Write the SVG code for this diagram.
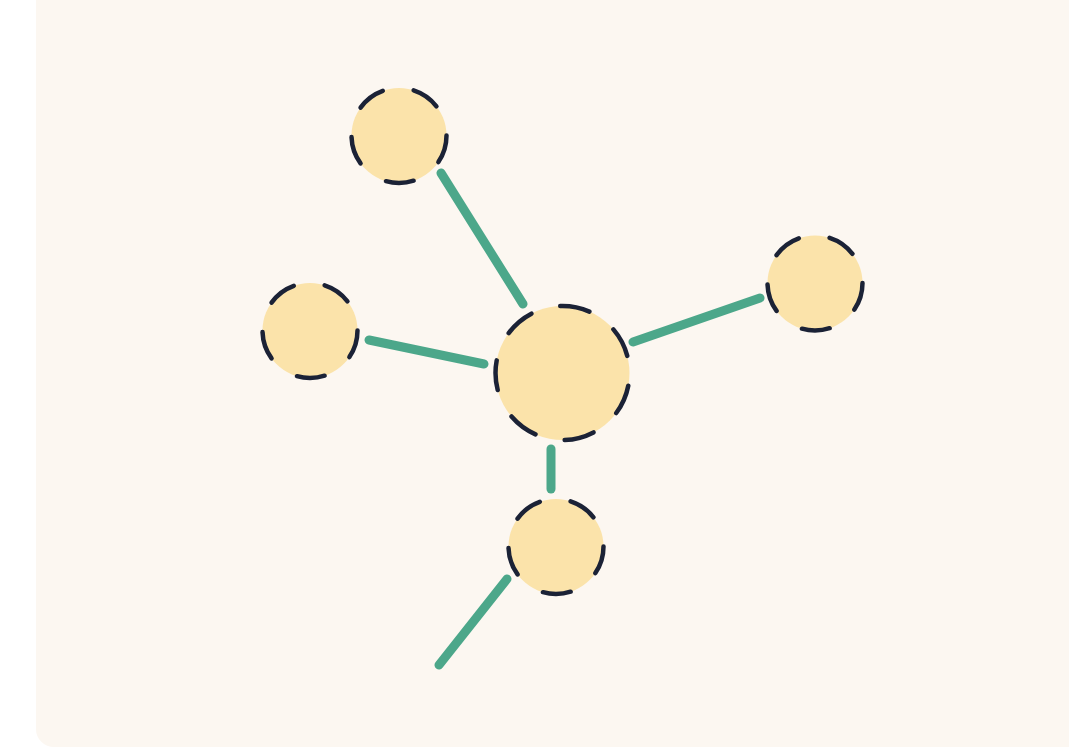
<svg xmlns="http://www.w3.org/2000/svg" width="1069" height="749" viewBox="0 0 1069 749">
  <style>
    .edge { stroke: #4CA78A; stroke-width: 9; stroke-linecap: round; fill: none; }
    .node { fill: #FBE3AA; stroke: #1B2236; stroke-width: 4.5; stroke-linecap: round; }
    .small { stroke-dasharray: 34 38; }
    .big { stroke-dasharray: 25.7 25.7; stroke-dashoffset: -11; }
  </style>
  <rect width="1069" height="749" fill="#FFFFFF"/>
  <rect id="panel" x="36" y="-30" width="1070" height="777" rx="18" fill="#FCF7F1"/>
  <g id="connectors">
    <line class="edge" x1="441" y1="173" x2="523" y2="304"/>
    <line class="edge" x1="369" y1="340" x2="484" y2="364"/>
    <line class="edge" x1="633" y1="342" x2="760" y2="298"/>
    <line class="edge" x1="551" y1="449" x2="551" y2="489"/>
    <line class="edge" x1="507" y1="579" x2="439" y2="665"/>
  </g>
  <g id="center"><circle class="node big" cx="562.5" cy="373" r="67" pathLength="360"/></g>
  <g id="top"><circle class="node small" cx="399" cy="135.5" r="47.5" pathLength="360"/></g>
  <g id="left"><circle class="node small" cx="310" cy="330.5" r="47.5" pathLength="360"/></g>
  <g id="right"><circle class="node small" cx="815" cy="283" r="47.5" pathLength="360"/></g>
  <g id="bottom"><circle class="node small" cx="556" cy="546.5" r="47.5" pathLength="360"/></g>
</svg>
